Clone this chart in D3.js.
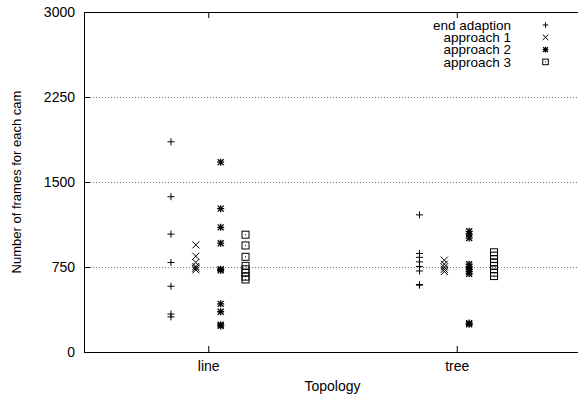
<!DOCTYPE html>
<html>
<head>
<meta charset="utf-8">
<script src="https://cdn.jsdelivr.net/npm/d3@7"></script>
<style>
body { margin: 0; background: #fff; overflow: hidden; }
svg { display: block; }
text { font-family: "Liberation Sans", Arial, sans-serif; font-size: 14px; fill: #000; }
</style>
</head>
<body>
<svg width="578" height="396"></svg>
<script>
// categories on the x axis
var categories = ["line", "tree"];
var seriesNames = ["end adaption", "approach 1", "approach 2", "approach 3"];
var yTicks = [0, 750, 1500, 2250, 3000];

// values (frames per cam)
var endAdaptionLine = [1855, 1370, 1040, 790, 580, 335, 310];
var endAdaptionTree = [1210, 870, 835, 795, 755, 715, 595, 590];
var approach1Line = [945, 845, 790, 755, 740, 725];
var approach1Tree = [810, 775, 750, 730, 710];
var approach2Line = [1675, 1265, 1100, 960, 730, 720, 425, 355, 240, 230];
var approach2Tree = [1065, 1040, 1005, 775, 750, 730, 710, 690, 255, 245];
var approach3Line = [1035, 940, 840, 760, 730, 700, 665, 640];
var approach3Tree = [880, 850, 820, 790, 760, 730, 700, 670];

var seriesData = [
	[endAdaptionLine, endAdaptionTree],
	[approach1Line, approach1Tree],
	[approach2Line, approach2Tree],
	[approach3Line, approach3Tree]
];
var offsets = [-0.15, -0.05, 0.05, 0.15];

var svg = d3.select("svg");
var pLeft = 84, pRight = 581, pTop = 12, pBottom = 352;

var x = d3.scaleLinear().domain([0.5, 2.5]).range([pLeft, pRight]),
    y = d3.scaleLinear().domain([0, 3000]).range([pBottom, pTop]);

// dotted grid
svg.append("g")
	.selectAll("line")
	.data(yTicks.filter(function(d) { return d > 0 && d < 3000; }))
  .enter().append("line")
	.attr("x1", pLeft).attr("x2", pRight)
	.attr("y1", function(d) { return y(d) + 0.5; })
	.attr("y2", function(d) { return y(d) + 0.5; })
	.style("stroke", "#777")
	.style("stroke-dasharray", "1,2");

// axes (ticks inward, like gnuplot)
var yAxis = d3.axisLeft(y).tickValues(yTicks).tickFormat(d3.format("d"))
	.tickSizeInner(-6).tickSizeOuter(0).tickPadding(9);
var xAxis = d3.axisBottom(x).tickValues([1, 2])
	.tickFormat(function(d) { return categories[d - 1]; })
	.tickSizeInner(-6).tickSizeOuter(0).tickPadding(9);
var xTop = d3.axisTop(x).tickValues([1, 2]).tickFormat("").tickSizeInner(-6).tickSizeOuter(0);

function styleAxis(g) {
	g.select(".domain").remove();
	g.selectAll("text").style("font-size", "14px").style("font-family", "'Liberation Sans', Arial, sans-serif").attr("fill", "#000");
	g.selectAll("line").attr("stroke", "#000");
}

svg.append("g").attr("transform", "translate(" + pLeft + ",0)").call(yAxis).call(styleAxis);
svg.append("g").attr("transform", "translate(0," + pBottom + ")").call(xAxis).call(styleAxis);
svg.append("g").attr("transform", "translate(0," + pTop + ")").call(xTop).call(styleAxis);

// border: left, top, bottom (right side falls outside the picture)
svg.append("path")
	.attr("d", "M" + pRight + "," + (pTop + 0.5) + "H" + (pLeft + 0.5) + "V" + (pBottom + 0.5) + "H" + pRight)
	.style("fill", "none").style("stroke", "#000");

// point symbols
function symbol(g, type, s) {
	if (type == 0 || type == 2) {
		g.append("path").attr("d", "M" + (-s) + ",0H" + s + "M0," + (-s) + "V" + s);
	}
	if (type == 1 || type == 2) {
		var t = type == 2 ? s * 0.85 : s;
		g.append("path").attr("d", "M" + (-t) + "," + (-t) + "L" + t + "," + t + "M" + (-t) + "," + t + "L" + t + "," + (-t));
	}
	if (type == 3) {
		g.append("rect").attr("x", -s).attr("y", -s).attr("width", 2 * s).attr("height", 2 * s);
		g.append("rect").attr("class", "dot").attr("x", -0.5).attr("y", -0.5).attr("width", 1).attr("height", 1);
	}
	g.selectAll("path, rect").style("fill", "none").style("stroke", "#000").style("stroke-width", type == 2 ? 1.3 : 1);
	g.selectAll(".dot").style("fill", "#000").style("stroke", "none");
}

seriesData.forEach(function(ser, si) {
	ser.forEach(function(vals, ci) {
		svg.append("g")
			.selectAll("g")
			.data(vals)
		  .enter().append("g")
			.attr("transform", function(d) { return "translate(" + x(ci + 1 + offsets[si]) + "," + y(d) + ")"; })
			.each(function() { symbol(d3.select(this), si, 3.5); });
	});
});

// legend
var legend = svg.append("g").selectAll("g")
	.data(seriesNames)
  .enter().append("g")
	.attr("transform", function(d, i) { return "translate(0," + (25 + i * 12.3) + ")"; });
legend.append("text")
	.attr("x", 511).attr("dy", "0.35em")
	.attr("text-anchor", "end")
	.style("font-size", "13.5px")
	.text(function(d) { return d; });
legend.append("g")
	.attr("transform", "translate(545.5,0)")
	.each(function(d, i) { symbol(d3.select(this), i, 2.8); });

// axis titles
svg.append("text")
	.attr("transform", "translate(21," + ((pTop + pBottom) / 2) + ") rotate(-90)")
	.attr("text-anchor", "middle")
	.style("font-size", "13px")
	.text("Number of frames for each cam");
svg.append("text")
	.attr("x", (pLeft + pRight) / 2).attr("y", 391)
	.attr("text-anchor", "middle")
	.text("Topology");
</script>
</body>
</html>
